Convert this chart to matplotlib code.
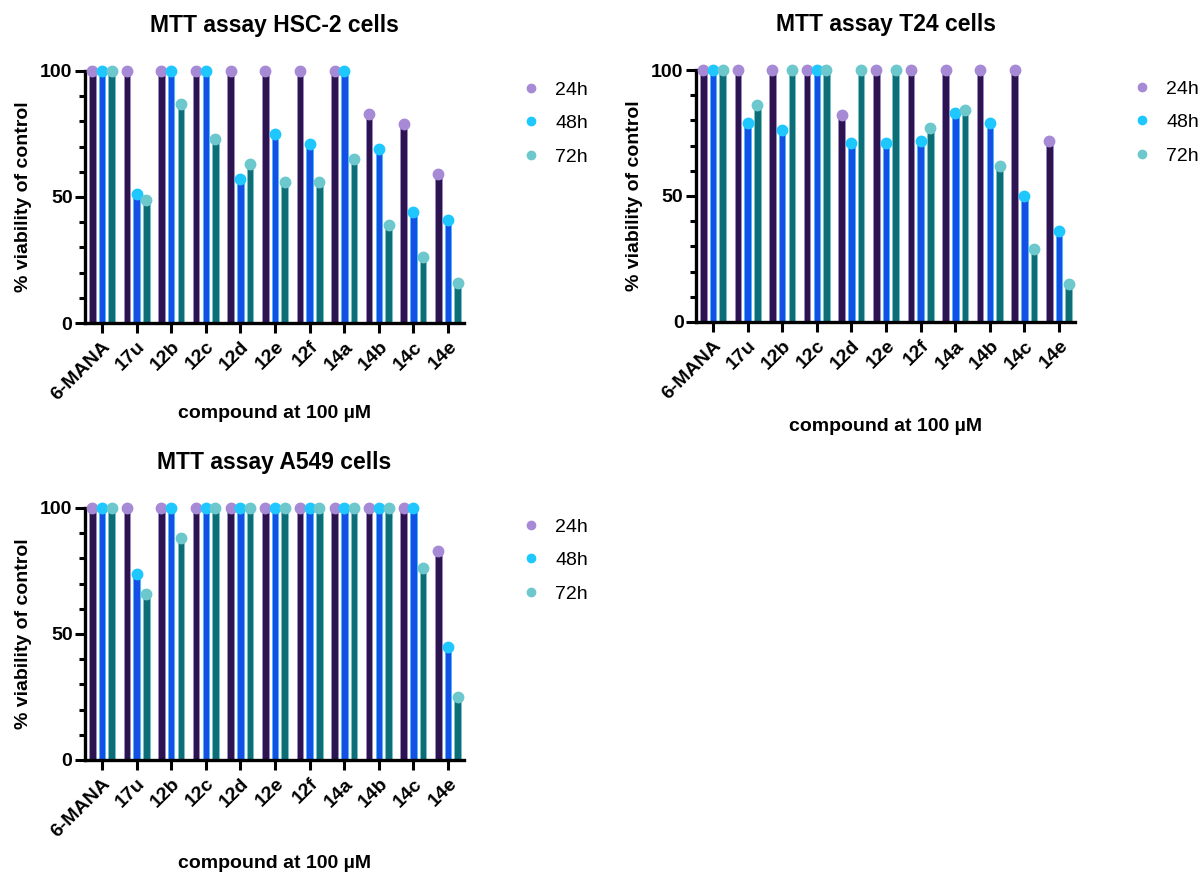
import numpy as np
import matplotlib
matplotlib.use("Agg")
import matplotlib.pyplot as plt
from matplotlib.lines import Line2D
from matplotlib.ticker import MultipleLocator

plt.rcParams['font.family'] = ['Liberation Sans', 'DejaVu Sans']

compounds = ["6-MANA", "17u", "12b", "12c", "12d", "12e", "12f", "14a", "14b", "14c", "14e"]
times = ["24h", "48h", "72h"]

# % viability of control
hsc2_24h = [100, 100, 100, 100, 100, 100, 100, 100, 83, 79, 59]
hsc2_48h = [100, 51, 100, 100, 57, 75, 71, 100, 69, 44, 41]
hsc2_72h = [100, 49, 87, 73, 63, 56, 56, 65, 39, 26, 16]

t24_24h = [100, 100, 100, 100, 82, 100, 100, 100, 100, 100, 72]
t24_48h = [100, 79, 76, 100, 71, 71, 72, 83, 79, 50, 36]
t24_72h = [100, 86, 100, 100, 100, 100, 77, 84, 62, 29, 15]

a549_24h = [100, 100, 100, 100, 100, 100, 100, 100, 100, 100, 83]
a549_48h = [100, 74, 100, 100, 100, 100, 100, 100, 100, 100, 45]
a549_72h = [100, 66, 88, 100, 100, 100, 100, 100, 100, 76, 25]

bar_colors = ["#2b1450", "#1450e6", "#0e6e78"]
dot_colors = ["#a68ad6", "#1ec8ff", "#6cc8cc"]

panels = [
    ("MTT assay HSC-2 cells", [hsc2_24h, hsc2_48h, hsc2_72h], [85, 71, 323], 405),
    ("MTT assay T24 cells", [t24_24h, t24_48h, t24_72h], [696, 70, 322], 418),
    ("MTT assay A549 cells", [a549_24h, a549_48h, a549_72h], [85, 508, 760], 855),
]

W, H = 1200, 874
fig = plt.figure(figsize=(12, 8.74), dpi=100)

x = np.arange(len(compounds))
offsets = [-0.28, 0, 0.28]
width = 0.19

for title, series, (left, top, bottom), xlab_y in panels:
    ax = fig.add_axes([left / W, 1 - bottom / H, 379 / W, (bottom - top) / H])
    for k, vals in enumerate(series):
        ax.bar(x + offsets[k], vals, width=width, color=bar_colors[k],
               edgecolor=dot_colors[k], linewidth=0.4, zorder=2)
        ax.plot(x + offsets[k], vals, 'o', color=dot_colors[k], markersize=7.5,
                clip_on=False, zorder=3)
    ax.set_xlim(-0.49, 10.46)
    ax.set_ylim(0, 100)
    ax.set_yticks([0, 50, 100])
    ax.yaxis.set_minor_locator(MultipleLocator(10))
    ax.set_xticks(x)
    ax.set_xticklabels(compounds, rotation=45, ha='right', rotation_mode='anchor',
                       fontsize=14, fontweight='bold')
    for lab in ax.get_yticklabels():
        lab.set_fontsize(14)
        lab.set_fontweight('bold')
    ax.tick_params(axis='both', which='major', length=7, width=2.2, pad=2)
    ax.tick_params(axis='x', pad=4)
    ax.tick_params(axis='y', which='minor', length=4, width=2.2)
    ax.spines['top'].set_visible(False)
    ax.spines['right'].set_visible(False)
    ax.spines['left'].set_linewidth(2.4)
    ax.spines['bottom'].set_linewidth(2.4)
    ax.set_title(title, fontsize=16.5, fontweight='bold', pad=28)
    ax.set_ylabel("% viability of control", fontsize=14, fontweight='bold', labelpad=6)
    ax.set_xlabel("compound at 100 µM", fontsize=14, fontweight='bold')
    ax.xaxis.set_label_coords(0.5, (bottom - xlab_y) / (bottom - top))

    handles = [Line2D([], [], marker='o', linestyle='none', color=c, markersize=6)
               for c in dot_colors]
    ax.legend(handles, times, loc='upper left', bbox_to_anchor=(1.105, 1.03),
              frameon=False, fontsize=14, handletextpad=0.75, labelspacing=0.82,
              handlelength=1.0)

fig.savefig("out.png", dpi=100)
